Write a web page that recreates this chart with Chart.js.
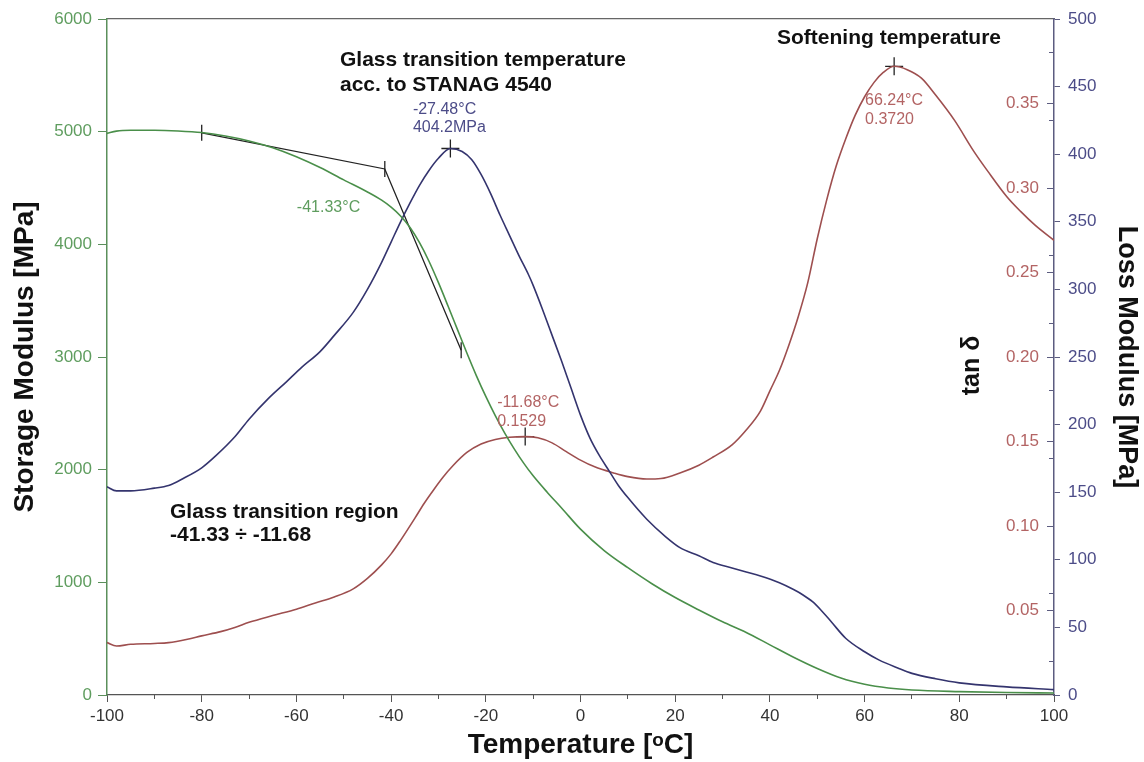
<!DOCTYPE html>
<html>
<head>
<meta charset="utf-8">
<script src="https://cdn.jsdelivr.net/npm/chart.js@4/dist/chart.umd.min.js"></script>
<style>
html,body{margin:0;padding:0;background:#fff;}
#wrap{width:1144px;height:762px;position:relative;}
</style>
</head>
<body>
<div id="wrap"><canvas id="c"></canvas></div>
<script>
// ---- data ----
const storageTemp = [-100,-98,-95,-90,-85,-80,-75,-70,-65,-60,-55,-50,-45,-42,-40,-38,-36,-34,-32,-30,-28,-26,-24,-22,-20,-18,-16,-14,-12,-10,-7,-4,0,5,10,15,20,25,30,35,40,45,50,55,60,65,70,80,90,100];
const storageMPa  = [4985,5005,5012,5012,5006,4992,4962,4918,4858,4778,4682,4572,4465,4392,4330,4252,4150,4015,3850,3660,3455,3245,3035,2835,2650,2480,2325,2185,2058,1945,1798,1660,1472,1282,1130,990,865,755,650,555,445,335,235,150,95,62,44,30,22,18];

const lossTemp = [-100,-98,-95,-90,-87,-84,-80,-77,-73,-70,-66,-62,-59,-55,-52,-48,-45,-42,-40,-38,-36,-34,-32,-30,-27.48,-25,-23,-21,-19,-17,-15,-13,-11,-10,-8,-6,-4,-2,0,2,4,6,8,10,14,18,21,25,28,32,35,38,42,45,47,49,51,53,56,60,63,67,70,75,80,90,100];
const lossMPa  = [154,151,151,153,155,160,168,177,191,204,219,232,242,254,266,283,300,320,335,350,364,377,388,397,404.2,402,396,385,371,355,340,325,311,303,285,266,247,227,207,190,177,166,155,146,130,117,109,103,98,94,91,88,83,78,74,69,62,54,42,32,26,20,16,12,9,6,4];

const tanTemp  = [-100,-98,-95,-90,-87,-83,-80,-76,-73,-70,-65,-60,-56,-52,-48,-45,-42,-40,-38,-35,-33,-31,-29,-27,-24,-21,-18,-15,-11.68,-9,-6,-3,0,3,7,10,14,17,21,25,28,32,35,38,40,42,44,46,48,50,52,54,56,58,60,62,64,66.24,69,72,75,79,83,86,90,93,96,100];
const tanDelta = [0.031,0.029,0.030,0.0305,0.031,0.033,0.035,0.0375,0.040,0.043,0.047,0.0508,0.0545,0.058,0.0628,0.069,0.077,0.0835,0.0915,0.1045,0.1135,0.1215,0.129,0.1355,0.1435,0.1485,0.1512,0.1525,0.1529,0.1522,0.1492,0.1440,0.1390,0.1350,0.1314,0.1292,0.1278,0.1281,0.1314,0.1360,0.1408,0.1480,0.1568,0.1680,0.1800,0.1920,0.2070,0.2240,0.2440,0.2700,0.2930,0.3130,0.3290,0.3430,0.3540,0.3625,0.3685,0.3720,0.3700,0.3650,0.3550,0.3400,0.3220,0.3100,0.2950,0.2860,0.2780,0.2690];

const tangentTemp = [-80, -41.33, -25.2];
const tangentMPa  = [4990, 4669, 3060];

const lossPeakTemp  = [-27.48];
const lossPeakValue = [404.2];
const tanPeakTemp   = [-11.68, 66.24];
const tanPeakValue  = [0.1529, 0.3720];

const tempRange    = [-100, 100];
const storageRange = [0, 6000];
const lossRange    = [0, 500];
const tanRange     = [0, 0.4];

// ---- styles ----
const FONT = "'Liberation Sans', Arial, sans-serif";
const GREEN = '#4a8f4a', GREEN_TXT = '#5f9d5f', GREEN_AX = '#5b8f5b';
const BLUE = '#34346e', BLUE_TXT = '#4c4c88', BLUE_AX = '#5c5c80';
const RED = '#9e4f4f', RED_TXT = '#b36464';
const DARK = '#222';
const CLEAR = 'rgba(0,0,0,0)';

const toXY = (xs, ys) => xs.map((x, i) => ({x: x, y: ys[i]}));

const NOTES = [
  {text: 'Glass transition temperature', t: -50.8, axis: 'y', v: 5636, font: 'bold 21px ' + FONT, color: '#111'},
  {text: 'acc. to STANAG 4540', t: -50.8, axis: 'y', v: 5414, font: 'bold 21px ' + FONT, color: '#111'},
  {text: '-27.48°C', t: -35.4, axis: 'yLoss', v: 432.7, font: '16px ' + FONT, color: BLUE_TXT},
  {text: '404.2MPa', t: -35.4, axis: 'yLoss', v: 419.4, font: '16px ' + FONT, color: BLUE_TXT},
  {text: '-41.33°C', t: -59.9, axis: 'y', v: 4323, font: '16px ' + FONT, color: GREEN_TXT},
  {text: 'Glass transition region', t: -86.7, axis: 'y', v: 1624, font: 'bold 21px ' + FONT, color: '#111'},
  {text: '-41.33 ÷ -11.68', t: -86.7, axis: 'y', v: 1420, font: 'bold 21px ' + FONT, color: '#111'},
  {text: '-11.68°C', t: -17.6, axis: 'yTan', v: 0.1728, font: '16px ' + FONT, color: RED_TXT},
  {text: '0.1529', t: -17.6, axis: 'yTan', v: 0.1615, font: '16px ' + FONT, color: RED_TXT},
  {text: 'Softening temperature', t: 41.5, axis: 'yTan', v: 0.3887, font: 'bold 21px ' + FONT, color: '#111'},
  {text: '66.24°C', t: 60.1, axis: 'yTan', v: 0.3515, font: '16px ' + FONT, color: RED_TXT},
  {text: '0.3720', t: 60.1, axis: 'yTan', v: 0.3402, font: '16px ' + FONT, color: RED_TXT}
];

const notesPlugin = {
  id: 'notes',
  afterDatasetsDraw(chart) {
    const {ctx, scales} = chart;
    ctx.save();
    ctx.textBaseline = 'middle';
    ctx.textAlign = 'left';
    NOTES.forEach(n => {
      ctx.font = n.font;
      ctx.fillStyle = n.color;
      ctx.fillText(n.text, scales.x.getPixelForValue(n.t), scales[n.axis].getPixelForValue(n.v));
    });
    // tan δ axis title (reads bottom to top, inside the plot)
    const s = scales.yTan;
    ctx.translate(s.left - 82, s.getPixelForValue(0.195));
    ctx.rotate(-Math.PI / 2);
    ctx.textAlign = 'center';
    ctx.font = 'bold 25px ' + FONT;
    ctx.fillStyle = '#111';
    ctx.fillText('tan δ', 0, 0);
    ctx.restore();
  }
};

const titleFont = size => ({family: FONT, size: size, weight: 'bold'});
const tickFont = {family: FONT, size: 17};

new Chart(document.getElementById('c'), {
  type: 'line',
  data: {
    datasets: [
      {label: 'Storage Modulus', data: toXY(storageTemp, storageMPa), yAxisID: 'y', borderColor: GREEN, borderWidth: 1.6, pointRadius: 0, cubicInterpolationMode: 'monotone'},
      {label: 'Loss Modulus', data: toXY(lossTemp, lossMPa), yAxisID: 'yLoss', borderColor: BLUE, borderWidth: 1.6, pointRadius: 0, cubicInterpolationMode: 'monotone'},
      {label: 'tan δ', data: toXY(tanTemp, tanDelta), yAxisID: 'yTan', borderColor: RED, borderWidth: 1.6, pointRadius: 0, cubicInterpolationMode: 'monotone'},
      {label: 'Onset tangents', data: toXY(tangentTemp, tangentMPa), yAxisID: 'y', borderColor: DARK, borderWidth: 1.3, tension: 0,
        pointStyle: 'line', pointRadius: 8, pointRotation: 90, pointBorderColor: DARK, pointBorderWidth: 1.3, pointBackgroundColor: DARK},
      {label: 'Loss peak', data: toXY(lossPeakTemp, lossPeakValue), yAxisID: 'yLoss', showLine: false,
        pointStyle: 'cross', pointRadius: 9, pointBorderColor: DARK, pointBorderWidth: 1.3},
      {label: 'tan δ peaks', data: toXY(tanPeakTemp, tanPeakValue), yAxisID: 'yTan', showLine: false,
        pointStyle: 'cross', pointRadius: 9, pointBorderColor: DARK, pointBorderWidth: 1.3}
    ]
  },
  options: {
    responsive: true,
    maintainAspectRatio: false,
    animation: false,
    events: [],
    layout: {padding: {top: 19, left: 0, right: 0, bottom: 0}},
    plugins: {legend: {display: false}, tooltip: {enabled: false}},
    scales: {
      x: {
        type: 'linear', position: 'bottom', weight: 1, min: tempRange[0], max: tempRange[1],
        ticks: {stepSize: 20, autoSkip: false, maxRotation: 0, color: '#333', font: tickFont, padding: 4, callback: v => String(v)},
        grid: {drawOnChartArea: false, tickLength: 7, color: '#555'},
        border: {color: '#555', width: 1.2},
        title: {display: true, text: 'Temperature [ᵒC]', color: '#111', font: titleFont(28), padding: {top: 0, bottom: 0}},
        afterFit: s => { s.height = 67; }
      },
      xMinor: {
        type: 'linear', position: 'bottom', weight: 0, min: tempRange[0], max: tempRange[1],
        ticks: {display: false, stepSize: 10},
        grid: {drawOnChartArea: false, tickLength: 4, color: c => (c.tick && Math.abs(c.tick.value) % 20 === 10) ? '#555' : CLEAR},
        border: {display: false},
        afterFit: s => { s.height = 0; }
      },
      xTop: {
        type: 'linear', position: 'top', min: tempRange[0], max: tempRange[1],
        ticks: {display: false},
        grid: {display: false},
        border: {color: '#666', width: 1.2},
        afterFit: s => { s.height = 0; }
      },
      y: {
        type: 'linear', position: 'left', min: storageRange[0], max: storageRange[1],
        ticks: {stepSize: 1000, color: GREEN_TXT, font: tickFont, padding: 6, callback: v => String(v)},
        grid: {drawOnChartArea: false, tickLength: 9, color: GREEN_AX},
        border: {color: GREEN_AX, width: 1.5},
        title: {display: true, text: 'Storage Modulus [MPa]', color: '#111', font: titleFont(28), padding: {top: 8, bottom: 0}},
        afterFit: s => { s.width = 107; }
      },
      yTan: {
        type: 'linear', position: 'right', weight: 0, min: tanRange[0], max: tanRange[1],
        ticks: {stepSize: 0.05, mirror: true, padding: -15, color: RED_TXT, font: tickFont,
          callback: v => (v > 0.001 && v < 0.399) ? v.toFixed(2) : ''},
        grid: {drawOnChartArea: false, tickLength: -7,
          color: c => (c.tick && c.tick.value > 0.001 && c.tick.value < 0.399) ? BLUE_AX : CLEAR},
        border: {display: false},
        afterFit: s => { s.width = 0; }
      },
      yLossMinor: {
        type: 'linear', position: 'right', weight: 1, min: lossRange[0], max: lossRange[1],
        ticks: {display: false, stepSize: 25},
        grid: {drawOnChartArea: false, tickLength: -5, color: c => (c.tick && c.tick.value % 50 === 25) ? BLUE_AX : CLEAR},
        border: {display: false},
        afterFit: s => { s.width = 0; }
      },
      yLoss: {
        type: 'linear', position: 'right', weight: 2, min: lossRange[0], max: lossRange[1],
        ticks: {stepSize: 50, color: BLUE_TXT, font: tickFont, padding: 8, callback: v => String(v)},
        grid: {drawOnChartArea: false, tickLength: 6, color: BLUE_AX},
        border: {color: BLUE_AX, width: 1.5},
        title: {display: true, text: 'Loss Modulus [MPa]', color: '#111', font: titleFont(27), padding: {top: 1, bottom: 0}},
        afterFit: s => { s.width = 90; }
      }
    }
  },
  plugins: [notesPlugin]
});
</script>
</body>
</html>
